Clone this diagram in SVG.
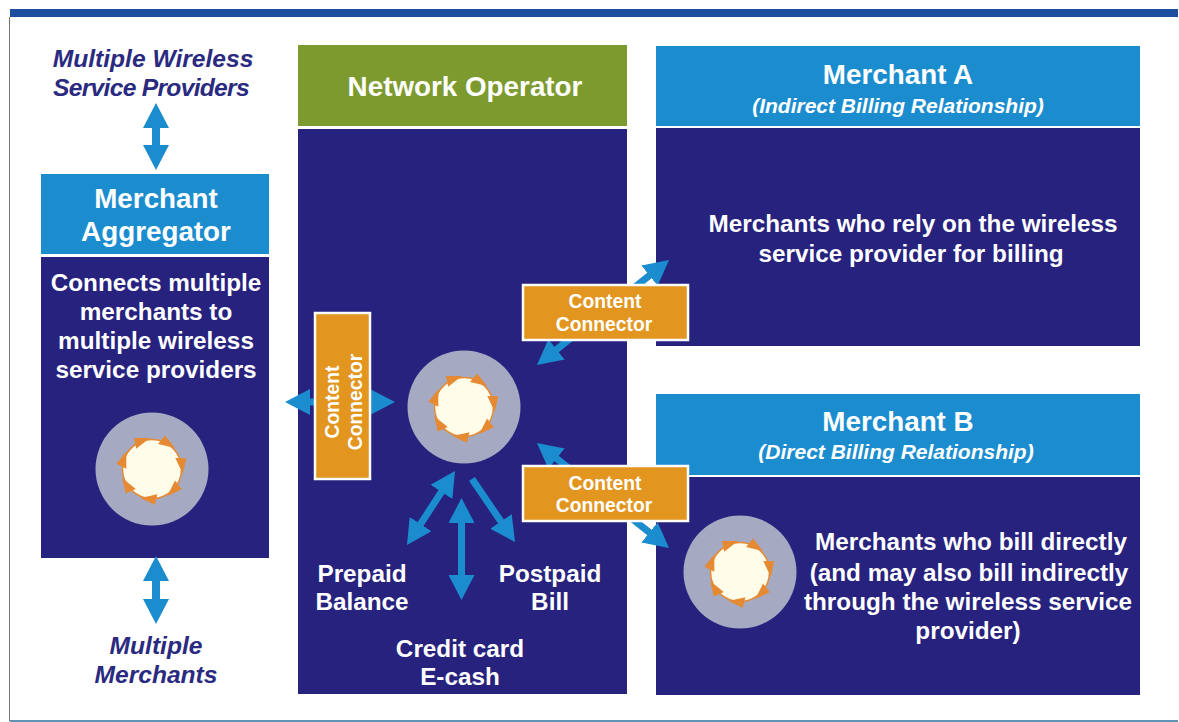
<svg xmlns="http://www.w3.org/2000/svg" xmlns:xlink="http://www.w3.org/1999/xlink" width="1179" height="722" viewBox="0 0 1179 722">
<style>
text{font-family:"Liberation Sans",Arial,sans-serif;font-weight:700;text-anchor:middle}
.navy{fill:#27227e}
.blue{fill:#1b8dcf}
.green{fill:#7d9a2e}
.or{fill:#e2951f;stroke:#fff;stroke-width:2.5}
.w{fill:#fff}
.h{font-size:27.8px}
.b{font-size:24.3px}
.s{font-size:21px;font-style:italic}
.i{font-size:24.6px;font-style:italic;fill:#2a2a80}
.c{font-size:19.3px}
.ar{stroke:#1b8dcf;fill:none}
</style>
<defs>
<marker id="a" markerUnits="userSpaceOnUse" markerWidth="30" markerHeight="30" refX="4" refY="13" orient="auto-start-reverse"><path d="M0 0L25 13L0 26Z" fill="#1b8dcf"/></marker>
<polygon id="t" points="13,-33.5 23,-21 6,-25" fill="#e58a32"/>
<g id="gear">
<circle r="56.5" fill="#a5aac2"/>
<circle r="29.5" fill="#fffdea" stroke="#e58a32" stroke-width="1.5"/>
<use xlink:href="#t"/>
<use xlink:href="#t" transform="rotate(51.4)"/>
<use xlink:href="#t" transform="rotate(102.9)"/>
<use xlink:href="#t" transform="rotate(154.3)"/>
<use xlink:href="#t" transform="rotate(205.7)"/>
<use xlink:href="#t" transform="rotate(257.1)"/>
<use xlink:href="#t" transform="rotate(308.6)"/>
</g>
</defs>
<rect width="1179" height="722" fill="#fff"/>
<g id="frame">
<rect x="10" y="9" width="1168" height="8" fill="#1e4f9f"/>
<rect x="9" y="17" width="1" height="704" fill="#777"/>
<rect x="10" y="720" width="1168" height="2" fill="#5f93b5"/>
</g>
<g id="wireless-label"><text class="i" x="153" y="67">Multiple Wireless</text><text class="i" x="151" y="96" letter-spacing="-0.7">Service Providers</text></g>
<g id="merchants-label"><text class="i" x="156" y="654">Multiple</text><text class="i" x="156" y="683">Merchants</text></g>
<g id="aggregator">
<rect class="blue" x="41" y="174" width="228" height="80"/>
<rect class="navy" x="41" y="257" width="228" height="301"/>
<text class="h w" x="156" y="208">Merchant</text><text class="h w" x="156" y="241">Aggregator</text>
<text class="b w" x="156" y="291">Connects multiple</text><text class="b w" x="156" y="320">merchants to</text><text class="b w" x="156" y="349">multiple wireless</text><text class="b w" x="156" y="378">service providers</text>
<use xlink:href="#gear" x="152" y="469"/>
</g>
<g id="network-operator">
<rect class="green" x="298" y="45" width="329" height="81"/>
<rect class="navy" x="298" y="129" width="329" height="565"/>
<text class="h w" x="465" y="96">Network Operator</text>
<use xlink:href="#gear" x="464" y="407"/>
<text class="b w" x="362" y="582">Prepaid</text><text class="b w" x="362" y="610">Balance</text>
<text class="b w" x="550" y="582">Postpaid</text><text class="b w" x="550" y="610">Bill</text>
<text class="b w" x="460" y="657">Credit card</text><text class="b w" x="460" y="685">E-cash</text>
</g>
<g id="merchant-a">
<rect class="blue" x="656" y="46" width="484" height="80"/>
<rect class="navy" x="656" y="128" width="484" height="218"/>
<text class="h w" x="898" y="84">Merchant A</text><text class="s w" x="898" y="113">(Indirect Billing Relationship)</text>
<text class="b w" x="913" y="232">Merchants who rely on the wireless</text><text class="b w" x="911" y="262">service provider for billing</text>
</g>
<g id="merchant-b">
<rect class="blue" x="656" y="394" width="484" height="81"/>
<rect class="navy" x="656" y="477" width="484" height="218"/>
<text class="h w" x="898" y="431">Merchant B</text><text class="s w" x="896" y="459">(Direct Billing Relationship)</text>
<use xlink:href="#gear" x="740" y="572"/>
<text class="b w" x="971" y="550">Merchants who bill directly</text><text class="b w" x="969" y="581">(and may also bill indirectly</text><text class="b w" x="968" y="610">through the wireless service</text><text class="b w" x="968" y="639">provider)</text>
</g>
<g id="connectors">
<path class="ar" stroke-width="8" d="M156 124V149" />
<path d="M156 103L169 128H143ZM156 170L169 145H143Z" fill="#1b8dcf"/>
<path class="ar" stroke-width="8" d="M156 577V603" />
<path d="M156 556L169 581H143ZM156 624L169 599H143Z" fill="#1b8dcf"/>
<path class="ar" stroke-width="7" marker-start="url(#a)" marker-end="url(#a)" d="M461.5 519V579"/>
<path class="ar" stroke-width="7" marker-start="url(#a)" marker-end="url(#a)" d="M443.6 488.6L418.4 527.4"/>
<path class="ar" stroke-width="7" marker-end="url(#a)" d="M472 479L503.2 524.7"/>
<path class="ar" stroke-width="7" marker-start="url(#a)" marker-end="url(#a)" d="M306 402H374"/>
<path class="ar" stroke-width="7" marker-start="url(#a)" marker-end="url(#a)" d="M553.4 351.9L652.6 273.1"/>
<path class="ar" stroke-width="7" marker-start="url(#a)" marker-end="url(#a)" d="M553.4 456.1L652.6 534.9"/>
</g>
<g id="connector-left">
<rect class="or" x="315" y="313" width="55" height="166"/>
<g transform="translate(342 402) rotate(-90)"><text class="c w" x="0" y="-3">Content</text><text class="c w" x="0" y="20">Connector</text></g>
</g>
<g id="connector-a">
<rect class="or" x="523" y="285" width="165" height="55"/>
<text class="c w" x="605" y="308">Content</text><text class="c w" x="604" y="331">Connector</text>
</g>
<g id="connector-b">
<rect class="or" x="523" y="466" width="165" height="55"/>
<text class="c w" x="605" y="490">Content</text><text class="c w" x="604" y="512">Connector</text>
</g>
</svg>
